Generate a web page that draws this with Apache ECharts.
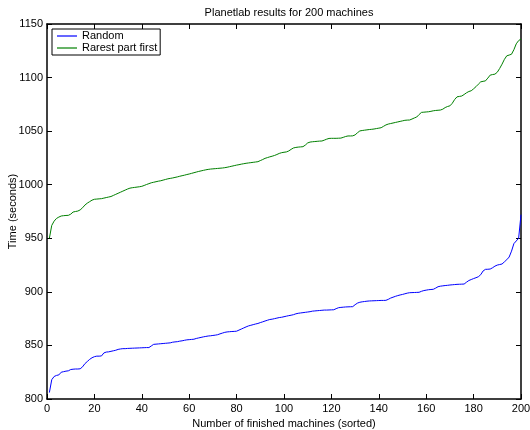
<!DOCTYPE html>
<html>
<head>
<meta charset="utf-8">
<script src="https://cdn.jsdelivr.net/npm/echarts@6/dist/echarts.min.js"></script>
<style>
  html, body { margin: 0; padding: 0; background: #fff; }
  #chart { width: 530px; height: 430px; }
</style>
</head>
<body>
<div id="chart"></div>
<script>
// Completion time of each machine, sorted, for the two piece-selection strategies.
var seriesNames = ['Random', 'Rarest part first'];

var randomTimes = [
  806, 818, 821, 822, 822.5, 825, 825.5, 826, 826.3, 827.5,
  827.8, 828, 828, 828.2, 830, 833, 835, 837, 838.5, 839.5,
  840, 840, 840.2, 843, 843.8, 844, 844.5, 845, 845.5, 846.3,
  846.7, 847, 847, 847.2, 847.3, 847.4, 847.5, 847.6, 847.7, 847.8,
  847.9, 848, 848, 849.5, 851, 851.2, 851.4, 851.6, 851.8, 852,
  852.2, 852.4, 853, 853.3, 853.5, 854, 854.3, 854.8, 855.2, 855.4,
  855.6, 855.8, 856.5, 857, 857.5, 858, 858.4, 858.8, 859, 859.3,
  859.6, 860, 860.8, 861.5, 862.2, 862.6, 862.8, 863, 863.1, 863.3,
  864.3, 865.3, 866.3, 867.3, 868.2, 868.8, 869.4, 870, 870.5, 871.3,
  872, 872.8, 873.5, 874.2, 874.5, 875, 875.5, 876, 876.3, 876.8,
  877.3, 877.8, 878.2, 878.7, 879.5, 880, 880.3, 880.6, 880.9, 881.2,
  881.5, 882, 882.2, 882.4, 882.6, 882.8, 883, 883, 883.1, 883.2,
  883.3, 884.3, 885.2, 885.5, 885.7, 885.9, 886, 886.1, 886.2, 888,
  889.5, 890.3, 890.7, 891, 891.3, 891.5, 891.6, 891.7, 891.8, 891.9,
  892, 892, 892.1, 893, 894.2, 895, 895.8, 896.5, 897.1, 897.6,
  898.2, 898.8, 899.2, 899.3, 899.4, 899.5, 899.6, 900.5, 901.2, 901.6,
  902, 902.2, 902.4, 903.5, 904.8, 905.3, 905.6, 905.9, 906.1, 906.4,
  906.6, 906.8, 907, 907.1, 907.2, 907.3, 909, 910.6, 911.5, 912.4,
  913.2, 914.1, 916, 919.5, 921, 921.1, 921.3, 922.5, 924, 925,
  925.5, 926, 928, 930, 932.5, 938, 945, 947.5, 950, 972
];

var rarestTimes = [
  950, 962, 966, 968.5, 969.8, 970.8, 971.1, 971.3, 971.4, 972.5,
  974.5, 975, 975.4, 976.5, 978.5, 981, 982.8, 984.2, 985.6, 986.4,
  986.6, 986.8, 987, 987.5, 988, 988.5, 989, 990, 991, 992,
  993, 994, 995, 996, 996.8, 997.2, 997.5, 997.8, 998.1, 998.5,
  999.3, 1000.2, 1001, 1001.8, 1002.3, 1002.8, 1003.3, 1003.7, 1004.3, 1004.9,
  1005.5, 1005.9, 1006.3, 1006.8, 1007.3, 1007.9, 1008.4, 1008.9, 1009.5, 1010,
  1010.6, 1011.2, 1011.8, 1012.4, 1012.9, 1013.4, 1013.9, 1014.3, 1014.6, 1014.8,
  1015, 1015.2, 1015.4, 1015.6, 1015.9, 1016.3, 1016.8, 1017.3, 1017.8, 1018.3,
  1018.7, 1019.2, 1019.6, 1020, 1020.3, 1020.6, 1020.9, 1021.2, 1021.5, 1022.5,
  1023.5, 1024.6, 1025.3, 1026, 1026.6, 1027.3, 1028.2, 1029.2, 1029.9, 1030.3,
  1030.6, 1031.5, 1033, 1034.3, 1034.8, 1035.1, 1035.3, 1035.5, 1037, 1039,
  1039.8, 1040.1, 1040.3, 1040.5, 1040.7, 1040.8, 1041.6, 1042.5, 1043.2, 1043.3,
  1043.3, 1043.3, 1043.4, 1043.5, 1044.2, 1045, 1045.5, 1045.5, 1045.6, 1046.5,
  1048.5, 1050.2, 1050.6, 1050.9, 1051.2, 1051.5, 1051.7, 1052, 1052.4, 1052.8,
  1053.2, 1054.5, 1055.8, 1056.6, 1057.1, 1057.6, 1058.1, 1058.6, 1059.1, 1059.6,
  1060.1, 1060.3, 1060.4, 1061.3, 1062.3, 1063.2, 1065.5, 1067.5, 1067.7, 1067.9,
  1068.1, 1068.5, 1069, 1069.3, 1069.5, 1069.7, 1070.5, 1072, 1073, 1073.6,
  1076, 1079.5, 1082, 1082.4, 1082.8, 1084.2, 1085.8, 1087, 1087.7, 1089.5,
  1091.5, 1093.8, 1096, 1096.5, 1096.9, 1099.5, 1102.3, 1102.8, 1103.2, 1105,
  1108.5, 1112.5, 1117, 1120.3, 1121, 1121.8, 1126, 1131.5, 1134.5, 1136
];

// Axis ranges and tick steps
var xRange = [0, 200], xStep = 20;
var yRange = [800, 1150], yStep = 50;

var FONT = 'Liberation Sans, Arial, Helvetica, sans-serif';
var lineColors = ['#0000ff', '#008000'];

function pairs(values) {
  return values.map(function (v, i) { return [i + 1, v]; });
}

function plain(v) { return String(v); }

var chart = echarts.init(document.getElementById('chart'), null, { renderer: 'canvas' });

var axisLine = { show: true, onZero: false, lineStyle: { color: '#000', width: 1.5 } };
var tickIn = { show: true, inside: true, length: 5, lineStyle: { color: '#000', width: 1 } };
var tickLabel = { color: '#000', fontSize: 11, fontFamily: FONT, formatter: plain };

chart.setOption({
  animation: false,
  backgroundColor: '#fff',
  title: {
    text: 'Planetlab results for 200 machines',
    left: 284, top: 2, textAlign: 'center',
    textStyle: { fontSize: 11, fontWeight: 'normal', color: '#000', fontFamily: FONT }
  },
  legend: {
    data: seriesNames.map(function (n) { return { name: n, icon: 'rect' }; }),
    orient: 'vertical',
    left: 52, top: 29,
    backgroundColor: '#fff',
    borderColor: '#000', borderWidth: 1,
    padding: [1, 3, 1, 5],
    itemGap: 0,
    itemWidth: 20, itemHeight: 1.2,
    textStyle: { fontSize: 11, color: '#000', fontFamily: FONT, lineHeight: 12 }
  },
  grid: { left: 47, right: 9, top: 24, bottom: 31, containLabel: false, outerBoundsMode: 'none' },
  xAxis: [{
    type: 'value', min: xRange[0], max: xRange[1], interval: xStep,
    position: 'bottom',
    name: 'Number of finished machines (sorted)',
    nameLocation: 'middle', nameGap: 19, nameMoveOverlap: false,
    nameTextStyle: { fontSize: 11, color: '#000', fontFamily: FONT },
    axisLine: axisLine, axisTick: tickIn,
    axisLabel: Object.assign({ margin: 4 }, tickLabel),
    splitLine: { show: false }
  }, {
    type: 'value', min: xRange[0], max: xRange[1], interval: xStep,
    position: 'top',
    axisLine: axisLine, axisTick: tickIn,
    axisLabel: { show: false }, splitLine: { show: false }
  }],
  yAxis: [{
    type: 'value', min: yRange[0], max: yRange[1], interval: yStep,
    position: 'left',
    name: 'Time (seconds)',
    nameLocation: 'middle', nameGap: 29, nameMoveOverlap: false,
    nameTextStyle: { fontSize: 11, color: '#000', fontFamily: FONT },
    axisLine: axisLine, axisTick: tickIn,
    axisLabel: Object.assign({ margin: 4 }, tickLabel),
    splitLine: { show: false }
  }, {
    type: 'value', min: yRange[0], max: yRange[1], interval: yStep,
    position: 'right',
    axisLine: axisLine, axisTick: tickIn,
    axisLabel: { show: false }, splitLine: { show: false }
  }],
  series: [{
    name: seriesNames[0], type: 'line',
    data: pairs(randomTimes),
    showSymbol: false, symbol: 'none',
    lineStyle: { color: lineColors[0], width: 1 },
    itemStyle: { color: lineColors[0] }
  }, {
    name: seriesNames[1], type: 'line',
    data: pairs(rarestTimes),
    showSymbol: false, symbol: 'none',
    lineStyle: { color: lineColors[1], width: 1 },
    itemStyle: { color: lineColors[1] }
  }]
});
</script>
</body>
</html>
